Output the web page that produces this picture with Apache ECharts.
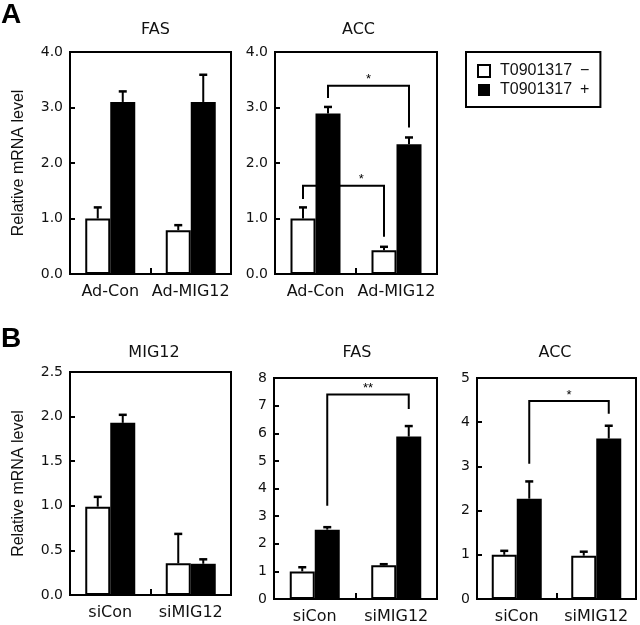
<!DOCTYPE html>
<html>
<head>
<meta charset="utf-8">
<script src="https://cdn.jsdelivr.net/npm/echarts@6/dist/echarts.min.js"></script>
<style>html,body{margin:0;padding:0;background:#fff;}#c{width:640px;height:625px;}</style>
</head>
<body>
<div id="c"></div>
<script>
// ---- data ----
const aCats = ['Ad-Con', 'Ad-MIG12'];
const bCats = ['siCon', 'siMIG12'];
const legendMinus = 'T0901317\u2002\u2212';
const legendPlus = 'T0901317\u2002+';

const aFasMinus = [1.0, 0.79];
const aFasMinusErr = [0.2, 0.09];
const aFasPlus = [3.1, 3.1];
const aFasPlusErr = [0.19, 0.49];

const aAccMinus = [1.0, 0.43];
const aAccMinusErr = [0.2, 0.06];
const aAccPlus = [2.89, 2.34];
const aAccPlusErr = [0.12, 0.12];

const bMigMinus = [0.99, 0.355];
const bMigMinusErr = [0.11, 0.33];
const bMigPlus = [1.93, 0.35];
const bMigPlusErr = [0.09, 0.05];

const bFasMinus = [1.0, 1.22];
const bFasMinusErr = [0.15, 0.04];
const bFasPlus = [2.51, 5.88];
const bFasPlusErr = [0.09, 0.38];

const bAccMinus = [1.0, 0.98];
const bAccMinusErr = [0.09, 0.09];
const bAccPlus = [2.27, 3.63];
const bAccPlusErr = [0.39, 0.29];

// significance brackets: [cat1, series1, cat2, series2, barHeight, leg1Bottom, leg2Bottom, starFraction]
const aAccBrackets = [[0, 1, 1, 1, 3.39, 3.17, 2.64, 0.5], [0, 0, 1, 0, 1.59, 1.35, 0.67, 0.72]];
const aAccBracketLabels = ['*', '*'];
const bFasBrackets = [[0, 1, 1, 1, 7.4, 3.38, 6.88, 0.5]];
const bFasBracketLabels = ['**'];
const bAccBrackets = [[0, 1, 1, 1, 4.48, 3.06, 4.19, 0.5]];
const bAccBracketLabels = ['*'];

const titles = ['FAS', 'ACC', 'MIG12', 'FAS', 'ACC'];
const yAxisName = 'Relative mRNA level';

// ---- layout / style ----
const BAR_W = 25;
const TXT = '#111';
const panels = [
  {grid: {left: 70, top: 52, width: 161, height: 222}, cats: aCats, minus: aFasMinus, minusErr: aFasMinusErr, plus: aFasPlus, plusErr: aFasPlusErr, max: 4, interval: 1, dec: 1, name: true, br: [], brL: [], title: titles[0], tx: 155.5, ty: 30},
  {grid: {left: 275, top: 52, width: 162, height: 222}, cats: aCats, minus: aAccMinus, minusErr: aAccMinusErr, plus: aAccPlus, plusErr: aAccPlusErr, max: 4, interval: 1, dec: 1, name: false, br: aAccBrackets, brL: aAccBracketLabels, title: titles[1], tx: 358.5, ty: 30},
  {grid: {left: 70, top: 372, width: 161, height: 223}, cats: bCats, minus: bMigMinus, minusErr: bMigMinusErr, plus: bMigPlus, plusErr: bMigPlusErr, max: 2.5, interval: 0.5, dec: 1, name: true, br: [], brL: [], title: titles[2], tx: 154, ty: 352.5},
  {grid: {left: 274, top: 378, width: 163, height: 222}, cats: bCats, minus: bFasMinus, minusErr: bFasMinusErr, plus: bFasPlus, plusErr: bFasPlusErr, max: 8, interval: 1, dec: 0, name: false, br: bFasBrackets, brL: bFasBracketLabels, title: titles[3], tx: 357, ty: 352.5},
  {grid: {left: 477, top: 378, width: 159, height: 221}, cats: bCats, minus: bAccMinus, minusErr: bAccMinusErr, plus: bAccPlus, plusErr: bAccPlusErr, max: 5, interval: 1, dec: 0, name: false, br: bAccBrackets, brL: bAccBracketLabels, title: titles[4], tx: 555, ty: 352.5}
];

const grids = [], xAxes = [], yAxes = [], series = [];
const graphics = [
  {type: 'text', x: 1, y: 15, style: {text: 'A', font: 'bold 28px "Liberation Sans", Arial, sans-serif', fill: '#000', align: 'left', verticalAlign: 'middle', textAlign: 'left', textVerticalAlign: 'middle'}},
  {type: 'text', x: 1, y: 339, style: {text: 'B', font: 'bold 28px "Liberation Sans", Arial, sans-serif', fill: '#000', align: 'left', verticalAlign: 'middle', textAlign: 'left', textVerticalAlign: 'middle'}}
];

panels.forEach((p, i) => {
  grids.push(Object.assign({show: true, borderColor: '#000', borderWidth: 2, backgroundColor: 'transparent'}, p.grid));
  xAxes.push({
    type: 'category', gridIndex: i, data: p.cats, boundaryGap: true,
    axisLine: {show: false},
    axisTick: {show: true, inside: true, length: 6, lineStyle: {color: '#000', width: 2}},
    axisLabel: {fontSize: 16, fontFamily: 'DejaVu Sans', color: TXT, margin: 10, interval: 0}
  });
  yAxes.push({
    type: 'value', gridIndex: i, min: 0, max: p.max, interval: p.interval,
    splitLine: {show: false},
    axisLine: {show: false},
    axisTick: {show: true, inside: true, length: 5, lineStyle: {color: '#000', width: 2}},
    axisLabel: {fontSize: 14, fontFamily: 'DejaVu Sans', color: TXT, margin: 7, formatter: v => v.toFixed(p.dec)},
    name: p.name ? yAxisName : '', nameLocation: 'middle', nameGap: 43,
    nameTextStyle: {fontSize: 16, fontFamily: '"Liberation Sans", Arial, sans-serif', color: TXT}
  });
  series.push({
    type: 'bar', name: legendMinus, xAxisIndex: i, yAxisIndex: i, data: p.minus,
    barWidth: BAR_W, barGap: '0%',
    itemStyle: {color: '#fff', borderColor: '#000', borderWidth: 2}, z: 2
  });
  series.push({
    type: 'bar', name: legendPlus, xAxisIndex: i, yAxisIndex: i, data: p.plus,
    barWidth: BAR_W, barGap: '0%',
    itemStyle: {color: '#000'}, z: 2
  });
  const errData = [];
  p.minus.forEach((v, c) => errData.push([c, v, p.minusErr[c], 0]));
  p.plus.forEach((v, c) => errData.push([c, v, p.plusErr[c], 1]));
  series.push({
    type: 'custom', name: 'err' + i, xAxisIndex: i, yAxisIndex: i, data: errData, z: 5, clip: false,
    encode: {x: 0, y: 1},
    renderItem: (params, api) => {
      const c = api.value(0), v = api.value(1), e = api.value(2), s = api.value(3);
      const p0 = api.coord([c, v]);
      const p1 = api.coord([c, v + e]);
      const x = p0[0] + (s === 0 ? -1 : 1) * BAR_W / 2;
      return {type: 'group', children: [
        {type: 'line', shape: {x1: x, y1: p0[1], x2: x, y2: p1[1]}, style: {stroke: '#000', lineWidth: 2}},
        {type: 'line', shape: {x1: x - 4, y1: p1[1], x2: x + 4, y2: p1[1]}, style: {stroke: '#000', lineWidth: 2.5}}
      ]};
    }
  });
  if (p.br.length) {
    series.push({
      type: 'custom', name: 'br' + i, xAxisIndex: i, yAxisIndex: i, data: p.br, z: 6, clip: false,
      encode: {x: 0, y: 4},
      renderItem: (params, api) => {
        const c1 = api.value(0), s1 = api.value(1), c2 = api.value(2), s2 = api.value(3);
        const yh = api.value(4), yl1 = api.value(5), yl2 = api.value(6), f = api.value(7);
        const x1 = api.coord([c1, 0])[0] + (s1 === 0 ? -1 : 1) * BAR_W / 2;
        const x2 = api.coord([c2, 0])[0] + (s2 === 0 ? -1 : 1) * BAR_W / 2;
        const yH = api.coord([c1, yh])[1], y1 = api.coord([c1, yl1])[1], y2 = api.coord([c2, yl2])[1];
        const label = p.brL[params.dataIndex];
        return {type: 'group', children: [
          {type: 'polyline', shape: {points: [[x1, y1], [x1, yH], [x2, yH], [x2, y2]]}, style: {stroke: '#000', lineWidth: 2, fill: null}},
          {type: 'text', x: x1 + f * (x2 - x1), y: yH - 6, style: {text: label, font: '13px "Liberation Sans", Arial, sans-serif', fill: '#000', align: 'center', verticalAlign: 'middle', textAlign: 'center', textVerticalAlign: 'middle'}}
        ]};
      }
    });
  }
  graphics.push({type: 'text', x: p.tx, y: p.ty, style: {text: p.title, font: '16px "DejaVu Sans", sans-serif', fill: TXT, align: 'center', verticalAlign: 'middle', textAlign: 'center', textVerticalAlign: 'middle'}});
});

const chart = echarts.init(document.getElementById('c'), null, {renderer: 'canvas'});
chart.setOption({
  animation: false,
  backgroundColor: '#fff',
  grid: grids,
  xAxis: xAxes,
  yAxis: yAxes,
  series: series,
  legend: {
    orient: 'vertical', left: 466, top: 52,
    data: [
      {name: legendMinus, icon: 'rect', itemStyle: {color: '#fff', borderColor: '#000', borderWidth: 2}},
      {name: legendPlus, icon: 'rect', itemStyle: {color: '#000', borderColor: '#000', borderWidth: 0}}
    ],
    itemWidth: 12, itemHeight: 12, itemGap: 3,
    padding: [11, 11, 9, 11],
    borderColor: '#000', borderWidth: 2, borderRadius: 0,
    selectedMode: false,
    textStyle: {fontSize: 16, fontFamily: '"Liberation Sans", Arial, sans-serif', color: TXT, padding: [0, 0, 0, 5]}
  },
  graphic: graphics
});
</script>
</body>
</html>
